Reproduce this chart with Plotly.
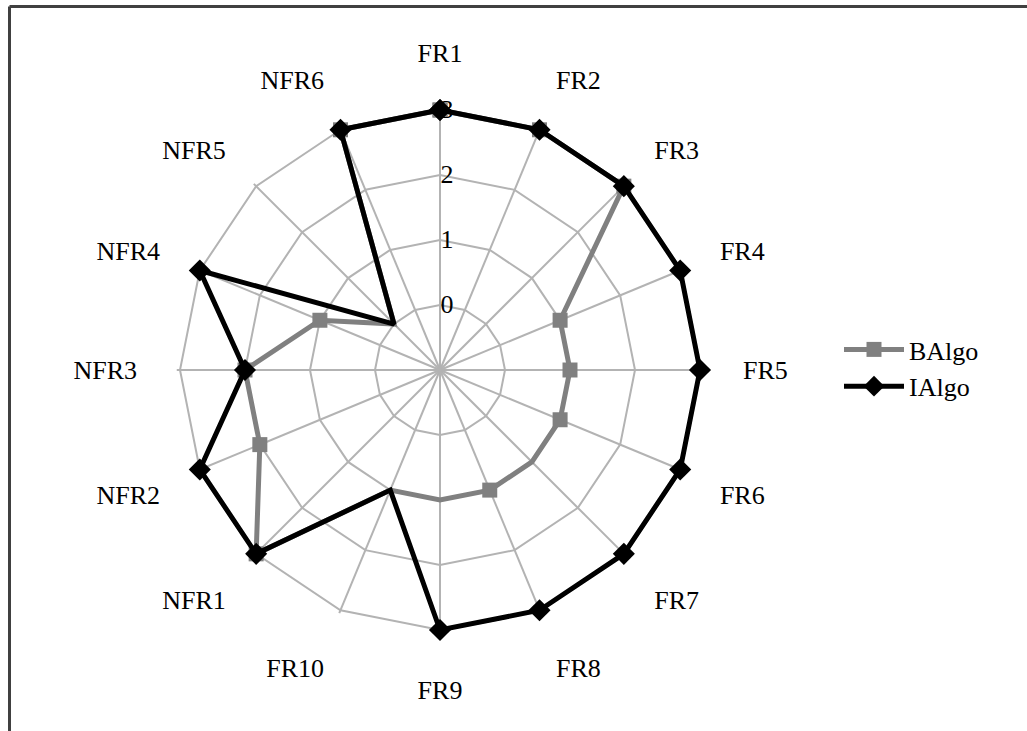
import plotly.graph_objects as go

categories = ["FR1", "FR2", "FR3", "FR4", "FR5", "FR6", "FR7", "FR8",
              "FR9", "FR10", "NFR1", "NFR2", "NFR3", "NFR4", "NFR5", "NFR6"]
balgo = [3, 3, 3, 1, 1, 1, 1, 1, 1, 1, 3, 2, 2, 1, 0, 3]
ialgo = [3, 3, 3, 3, 3, 3, 3, 3, 3, 1, 3, 3, 2, 3, 0, 3]
radial_ticks = [0, 1, 2, 3]

FONT = "Liberation Serif"
FS = 26
GRID = "#b3b3b3"


def closed(vals):
    return list(vals) + [vals[0]]


fig = go.Figure()
fig.add_trace(go.Scatterpolar(
    r=closed(balgo), theta=closed(categories), name="BAlgo",
    mode="lines+markers", cliponaxis=False,
    line=dict(color="#808080", width=5),
    marker=dict(symbol="square", size=15, color="#808080"),
))
fig.add_trace(go.Scatterpolar(
    r=closed(ialgo), theta=closed(categories), name="IAlgo",
    mode="lines+markers", cliponaxis=False,
    line=dict(color="#000000", width=5),
    marker=dict(symbol="diamond", size=17, color="#000000"),
))

W, H = 1027, 731
cx, cy = 440, 370
r_min, r_max = -1, 3.05            # small headroom so the outer line is not clipped
R = 260 * (r_max - r_min) / 4      # pixel radius of the whole range

fig.update_layout(
    width=W, height=H,
    margin=dict(l=0, r=0, t=0, b=0),
    paper_bgcolor="white",
    font=dict(family=FONT, size=FS, color="black"),
    polar=dict(
        domain=dict(x=[(cx - R) / W, (cx + R) / W],
                    y=[1 - (cy + R) / H, 1 - (cy - R) / H]),
        bgcolor="white",
        gridshape="linear",
        angularaxis=dict(
            direction="clockwise", rotation=90,
            categoryorder="array", categoryarray=categories,
            showline=False,
            gridcolor=GRID, gridwidth=2,
            ticks="outside", ticklen=34, tickcolor="rgba(0,0,0,0)",
            tickfont=dict(family=FONT, size=FS, color="black"),
        ),
        radialaxis=dict(
            range=[r_min, r_max], tickvals=radial_ticks, angle=90,
            side="clockwise",
            showline=False, gridcolor=GRID, gridwidth=2,
            ticks="", tickfont=dict(family=FONT, size=FS, color="black"),
            tickangle=90,
        ),
    ),
    legend=dict(
        x=839 / W, y=1 - 368 / H, xanchor="left", yanchor="middle",
        font=dict(family=FONT, size=FS, color="black"),
        itemwidth=60, tracegroupgap=0,
    ),
    shapes=[
        dict(type="line", xref="paper", yref="paper",
             x0=9.5 / W, x1=1, y0=1 - 6.5 / H, y1=1 - 6.5 / H,
             line=dict(color="#404040", width=3)),
        dict(type="line", xref="paper", yref="paper",
             x0=9.5 / W, x1=9.5 / W, y0=0, y1=1 - 6.5 / H,
             line=dict(color="#404040", width=3)),
    ],
)

fig.write_html("out.html")
